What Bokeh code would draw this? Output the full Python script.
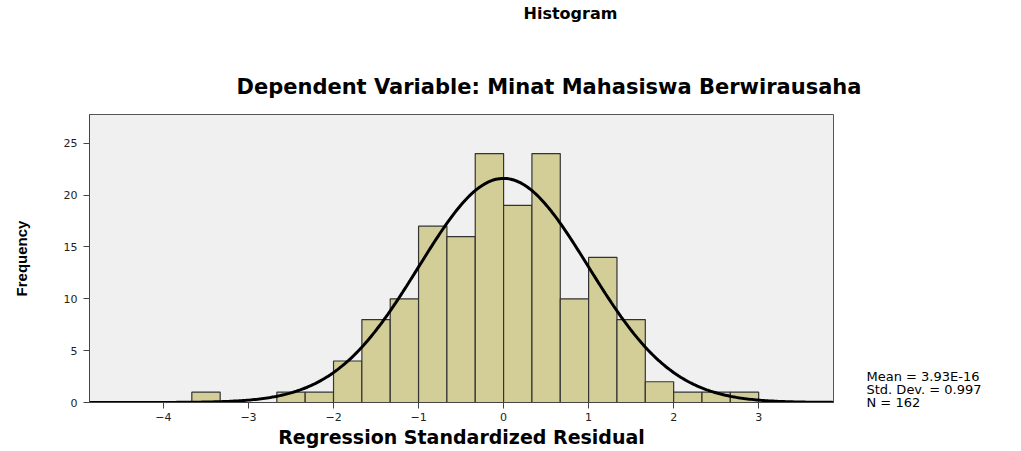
import numpy as np
from bokeh.plotting import figure
from bokeh.models import FixedTicker, ColumnDataSource, Title, LinearAxis, Range1d
from bokeh.embed import file_html
from bokeh.resources import INLINE

# ---- data ----
bin_width = 1 / 3
bin_start = -11 / 3
counts = [1, 0, 0, 1, 1, 4, 8, 10, 17, 16, 24, 19, 24, 10, 14, 8, 2, 1, 1, 1]
mean_val = 3.93e-16
std_val = 0.997
n_val = 162
x_ticks = [-4, -3, -2, -1, 0, 1, 2, 3]
y_ticks = [0, 5, 10, 15, 20, 25]
main_title = "Histogram"
sub_title = "Dependent Variable: Minat Mahasiswa Berwirausaha"
stats_lines = ["Mean = 3.93E-16", "Std. Dev. = 0.997", "N = 162"]

lefts = [bin_start + i * bin_width for i in range(len(counts))]
bars = ColumnDataSource(dict(
    left=[l for l, c in zip(lefts, counts) if c > 0],
    right=[l + bin_width for l, c in zip(lefts, counts) if c > 0],
    top=[c for c in counts if c > 0],
))

FONT = "DejaVu Sans"

p = figure(width=1020, height=450, output_backend="svg", toolbar_location=None,
           title=None,
           x_range=(-4.87, 3.88), y_range=(0, 27.77),
           min_border_left=89, min_border_right=187, min_border_top=114, min_border_bottom=48)
xa = p.below[0]
ya = p.left[0]

p.background_fill_color = "#F0F0F0"
p.border_fill_color = "white"
p.outline_line_color = "#555555"
p.outline_line_width = 1
p.grid.visible = False

# main axes
for ax in (xa, ya):
    ax.major_tick_in = 0
    ax.major_tick_out = 6
    ax.minor_tick_line_color = None
    ax.axis_line_color = "#444444"
    ax.major_tick_line_color = "#444444"
    ax.major_label_text_font = FONT
    ax.major_label_text_font_size = "11px"
    ax.major_label_text_color = "#222222"
    ax.axis_label_text_font_style = "bold"
    ax.axis_label_text_color = "black"

xa.ticker = FixedTicker(ticks=x_ticks)
ya.ticker = FixedTicker(ticks=y_ticks)
xa.axis_label = "Regression Standardized Residual"
xa.axis_label_text_font = FONT
xa.axis_label_text_font_size = "19px"
xa.axis_label_standoff = 2
xa.major_label_standoff = 4
ya.axis_label = "Frequency"
ya.axis_label_text_font = "Liberation Sans"
ya.axis_label_text_font_size = "15px"
ya.axis_label_standoff = 31
ya.major_label_standoff = 6

# subtitle (closest to the plot)
p.add_layout(Title(text=sub_title, text_font=FONT,
                   text_font_style="bold", text_font_size="21px", text_color="black",
                   align="left", offset=147, standoff=32), "above")

# main title: label-only axis in the top panel (pixel-like extra range over the frame width)
p.extra_x_ranges = {"title": Range1d(0, 744)}
title_pos = [481]
title_axis = LinearAxis(x_range_name="title", ticker=FixedTicker(ticks=title_pos),
                        major_label_overrides={title_pos[0]: main_title},
                        axis_line_color=None, major_tick_line_color=None,
                        major_tick_in=0, major_tick_out=0,
                        minor_tick_line_color=None, major_label_standoff=34,
                        major_label_text_font=FONT, major_label_text_font_style="bold",
                        major_label_text_font_size="16px", major_label_text_color="black")
p.add_layout(title_axis, "above")

# statistics text: label-only axis in the right-hand panel (pixel-like extra range)
p.extra_y_ranges = {"stats": Range1d(0, 288)}
stat_pos = [26, 13, 0]
stats_axis = LinearAxis(y_range_name="stats", ticker=FixedTicker(ticks=stat_pos),
                        major_label_overrides={pos: t for pos, t in zip(stat_pos, stats_lines)},
                        axis_line_color=None, major_tick_line_color=None,
                        major_tick_in=0, major_tick_out=0,
                        minor_tick_line_color=None, major_label_standoff=33,
                        major_label_text_font=FONT, major_label_text_font_size="13px",
                        major_label_text_color="black")
p.add_layout(stats_axis, "right")

p.quad(left="left", right="right", bottom=0, top="top", source=bars,
       fill_color="#D3CE97", line_color="#333333", line_width=1.2)

xs = np.linspace(-4.87, 3.88, 400)
dens = n_val * bin_width / (std_val * np.sqrt(2 * np.pi)) * np.exp(-0.5 * ((xs - mean_val) / std_val) ** 2)
p.line(xs, dens, line_color="black", line_width=3)

open("out.html", "w").write(file_html(p, INLINE))
